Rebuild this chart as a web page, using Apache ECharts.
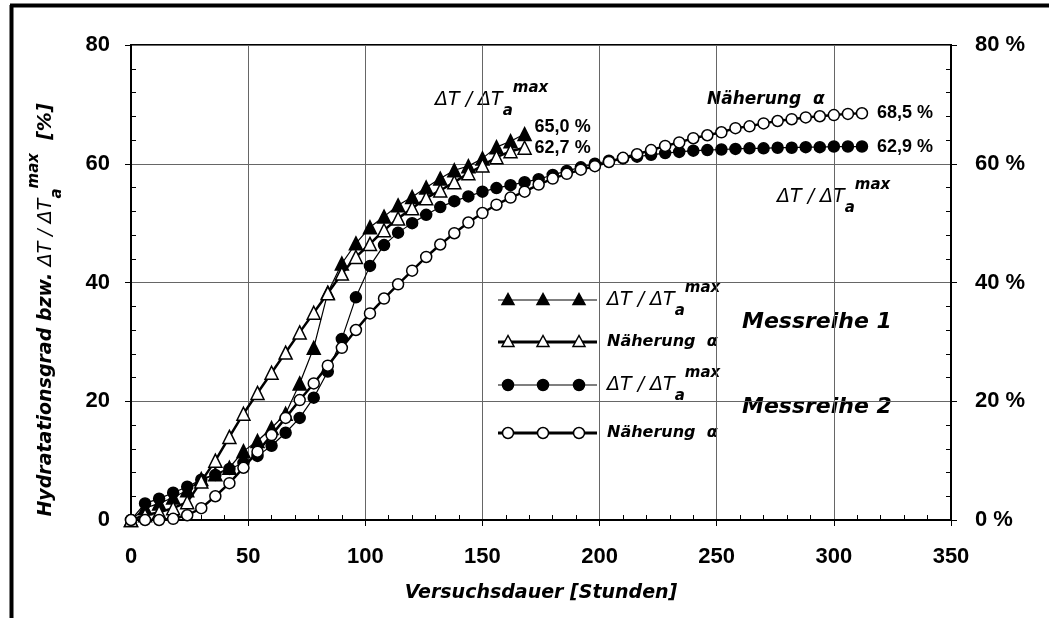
<!DOCTYPE html>
<html><head><meta charset="utf-8">
<script src="https://cdn.jsdelivr.net/npm/echarts@6/dist/echarts.min.js"></script>
<style>html,body{margin:0;padding:0;background:#fff}#c{width:1049px;height:618px}</style>
</head><body><div id="c"></div>
<script>
// ---- data (hours, percent) ----
const hours1 = [0,6,12,18,24,30,36,42,48,54,60,66,72,78,84,90,96,102,108,114,120,126,132,138,144,150,156,162,168];
const hours2 = [0,6,12,18,24,30,36,42,48,54,60,66,72,78,84,90,96,102,108,114,120,126,132,138,144,150,156,162,168,174,180,186,192,198,204,210,216,222,228,234,240,246,252,258,264,270,276,282,288,294,300,306,312];
// Messreihe 1: dT/dTa_max (filled triangles)
const m1Delta = [0,2.0,2.8,3.8,5.0,6.9,7.7,8.8,11.6,13.3,15.5,17.9,23.0,29.0,38.3,43.2,46.6,49.3,51.1,53.0,54.4,56.0,57.5,58.9,59.6,60.9,62.8,63.8,65.0];
// Messreihe 1: Naeherung alpha (open triangles)
const m1Alpha = [0,0.8,1.3,2.0,3.0,6.5,10.0,14.0,17.9,21.4,24.8,28.2,31.6,34.9,38.2,41.5,44.3,46.5,48.8,50.8,52.5,54.2,55.5,56.9,58.4,59.7,61.1,62.1,62.7];
// Messreihe 2: dT/dTa_max (filled circles)
const m2Delta = [0,2.8,3.6,4.6,5.6,6.8,7.6,8.6,9.6,10.8,12.5,14.7,17.2,20.6,25.0,30.5,37.5,42.8,46.3,48.4,50.0,51.4,52.7,53.7,54.5,55.3,55.9,56.4,56.9,57.4,58.1,58.8,59.4,60.0,60.5,60.9,61.2,61.5,61.8,62.0,62.2,62.3,62.4,62.5,62.6,62.6,62.7,62.7,62.8,62.8,62.9,62.9,62.9];
// Messreihe 2: Naeherung alpha (open circles)
const m2Alpha = [0,0,0,0.2,0.8,2.0,4.0,6.2,8.8,11.5,14.3,17.2,20.2,23.0,26.0,29.0,32.0,34.8,37.3,39.7,42.0,44.3,46.4,48.3,50.1,51.7,53.1,54.3,55.3,56.5,57.5,58.3,59.0,59.6,60.3,61.0,61.6,62.3,63.0,63.6,64.3,64.8,65.3,66.0,66.3,66.8,67.2,67.5,67.8,68.0,68.2,68.4,68.5];
const xTicks = {min:0, max:350, interval:50};
const yTicks = {min:0, max:80, interval:20};
const xTitle = 'Versuchsdauer [Stunden]';
const labelDelta = ['ΔT / ΔT','a','max'];
const labelAlpha = 'Näherung  α';
const groupNames = ['Messreihe 1','Messreihe 2'];

const TXT = 'DejaVu Sans';
const NUM = 'Liberation Sans';
function deltaRich(fs, sfs){
  return {
    m:{fontFamily:TXT,fontStyle:'italic',fontSize:fs,lineHeight:38,color:'#000',verticalAlign:'middle'},
    sub:{fontFamily:TXT,fontStyle:'italic',fontWeight:'bold',fontSize:sfs,lineHeight:25,color:'#000',verticalAlign:'bottom'},
    sup:{fontFamily:TXT,fontStyle:'italic',fontWeight:'bold',fontSize:sfs,lineHeight:19,color:'#000',verticalAlign:'top'},
    b:{fontFamily:TXT,fontStyle:'italic',fontWeight:'bold',fontSize:fs,lineHeight:38,color:'#000',verticalAlign:'middle'}
  };
}
const deltaStr = '{m|'+labelDelta[0]+'}{sub|'+labelDelta[1]+'}{sup|'+labelDelta[2]+'}';

function zip(xs, ys){ return xs.map((x,i)=>[x, ys[i]]); }
function pct(v){ return v.toFixed(1).replace('.', ',') + ' %'; }

const chart = echarts.init(document.getElementById('c'), null, {renderer:'canvas'});

function mkSeries(name, data, symbol, filled, width, size, endOff, dist){
  return {
    name, type:'line', data, symbol, symbolSize:size, showSymbol:true,
    lineStyle:{color:'#000', width:width},
    itemStyle:{color: filled ? '#000' : '#fff', borderColor:'#000', borderWidth:1.5},
    emphasis:{disabled:true},
    z: filled ? 3 : 4,
    endLabel:{show:true, distance:dist, offset:endOff, fontFamily:NUM, fontWeight:'bold', fontSize:18, color:'#000',
      formatter: p => pct(p.value[1])}
  };
}

function legendRow(y, symbol, filled, width){
  const els = [{type:'line', shape:{x1:498,y1:y,x2:597,y2:y}, style:{stroke:'#000', lineWidth:width}}];
  [508,543,579].forEach(x=>{
    if (symbol==='triangle') {
      els.push({type:'polygon', shape:{points:[[x,y-6.5],[x-6,y+4.5],[x+6,y+4.5]]}, style:{fill: filled?'#000':'#fff', stroke:'#000', lineWidth:1.5}});
    } else {
      els.push({type:'circle', shape:{cx:x,cy:y,r:5.5}, style:{fill: filled?'#000':'#fff', stroke:'#000', lineWidth:1.5}});
    }
  });
  return els;
}

const graphics = [
  {type:'line', shape:{x1:11.5,y1:5,x2:11.5,y2:618}, style:{stroke:'#000', lineWidth:4}},
  {type:'line', shape:{x1:10,y1:5.5,x2:1049,y2:5.5}, style:{stroke:'#000', lineWidth:4}},
  // y axis title
  {type:'text', x:46, y:310, rotation:Math.PI/2,
    style:{text:'{b|Hydratationsgrad bzw. }'+deltaStr+'{b|  [%]}', rich:deltaRich(19,15), align:'center', verticalAlign:'middle'}},
  // annotations
  {type:'text', x:435, y:100, style:{text:deltaStr, rich:deltaRich(19,15), align:'left', verticalAlign:'middle'}},
  {type:'text', x:707, y:100, style:{text:labelAlpha, fontFamily:TXT, fontStyle:'italic', fontWeight:'bold', fontSize:17, fill:'#000', align:'left', verticalAlign:'middle'}},
  {type:'text', x:777, y:197, style:{text:deltaStr, rich:deltaRich(19,15), align:'left', verticalAlign:'middle'}},
  // legend texts
  {type:'text', x:607, y:300, style:{text:deltaStr, rich:deltaRich(19,15), align:'left', verticalAlign:'middle'}},
  {type:'text', x:607, y:342, style:{text:labelAlpha, fontFamily:TXT, fontStyle:'italic', fontWeight:'bold', fontSize:16, fill:'#000', align:'left', verticalAlign:'middle'}},
  {type:'text', x:607, y:385, style:{text:deltaStr, rich:deltaRich(19,15), align:'left', verticalAlign:'middle'}},
  {type:'text', x:607, y:433, style:{text:labelAlpha, fontFamily:TXT, fontStyle:'italic', fontWeight:'bold', fontSize:16, fill:'#000', align:'left', verticalAlign:'middle'}},
  {type:'text', x:742, y:322, style:{text:groupNames[0], fontFamily:TXT, fontStyle:'italic', fontWeight:'bold', fontSize:22, fill:'#000', align:'left', verticalAlign:'middle'}},
  {type:'text', x:742, y:407, style:{text:groupNames[1], fontFamily:TXT, fontStyle:'italic', fontWeight:'bold', fontSize:22, fill:'#000', align:'left', verticalAlign:'middle'}}
].concat(legendRow(300,'triangle',true,1.2), legendRow(342,'triangle',false,3), legendRow(385,'circle',true,1.2), legendRow(433,'circle',false,3));

const axisCommon = {
  axisLine:{show:true, lineStyle:{color:'#000', width:2}},
  axisTick:{show:true, inside:false, length:6, lineStyle:{color:'#000', width:1}},
  minorTick:{show:true, splitNumber:5, length:-5, lineStyle:{color:'#000', width:1}},
  splitLine:{show:true, lineStyle:{color:'#666', width:1}},
  minorSplitLine:{show:false}
};

chart.setOption({
  animation:false,
  backgroundColor:'#fff',
  grid:{left:131, right:98, top:45, bottom:98, show:true, borderColor:'#000', borderWidth:2, backgroundColor:'transparent'},
  xAxis:Object.assign({type:'value', min:xTicks.min, max:xTicks.max, interval:xTicks.interval,
    name:xTitle, nameLocation:'middle', nameGap:64,
    nameTextStyle:{fontFamily:TXT, fontStyle:'italic', fontWeight:'bold', fontSize:19, color:'#000'},
    axisLabel:{margin:26, fontFamily:NUM, fontWeight:'bold', fontSize:22, color:'#000'}}, axisCommon),
  yAxis:[
    Object.assign({type:'value', position:'left', min:yTicks.min, max:yTicks.max, interval:yTicks.interval,
      axisLabel:{margin:21, fontFamily:NUM, fontWeight:'bold', fontSize:22, color:'#000'}}, axisCommon),
    Object.assign({type:'value', position:'right', min:yTicks.min, max:yTicks.max, interval:yTicks.interval,
      axisLabel:{margin:24, fontFamily:NUM, fontWeight:'bold', fontSize:22, color:'#000', formatter:'{value} %'}}, axisCommon, {splitLine:{show:false}})
  ],
  series:[
    mkSeries('m1Alpha', zip(hours1, m1Alpha), 'triangle', false, 2.5, 13, [0,0], 10),
    mkSeries('m1Delta', zip(hours1, m1Delta), 'triangle', true, 1.2, 13, [0,-7], 10),
    mkSeries('m2Alpha', zip(hours2, m2Alpha), 'circle', false, 2.5, 11, [0,0], 15),
    mkSeries('m2Delta', zip(hours2, m2Delta), 'circle', true, 1.2, 11, [0,0], 15)
  ],
  graphic: graphics
});
</script></body></html>
